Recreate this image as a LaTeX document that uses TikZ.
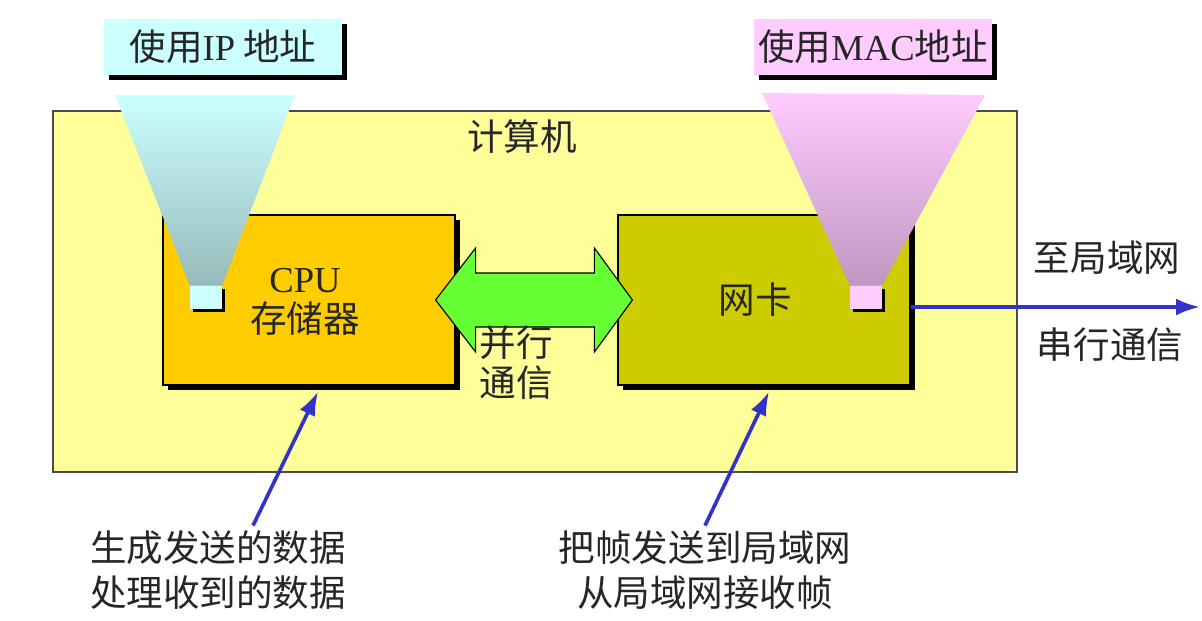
\documentclass[tikz,border=0pt]{standalone}
\usepackage{fontspec}
\setmainfont{Liberation Serif}
\newfontfamily\cjk{Noto Sans CJK SC}
\usetikzlibrary{calc,shadows,arrows.meta}

\definecolor{pcyellow}{HTML}{FFFF99}
\definecolor{cpuorange}{HTML}{FFCC00}
\definecolor{nicolive}{HTML}{CCCC00}
\definecolor{busgreen}{HTML}{66FF33}
\definecolor{wireblue}{HTML}{3333CC}
\definecolor{ipcyan}{HTML}{CCFFFF}
\definecolor{ipcyandark}{HTML}{96BABA}
\definecolor{macpink}{HTML}{FFCCFF}
\definecolor{macpinkdark}{HTML}{C096C0}

\tikzset{
  txt/.style={font=\fontsize{26}{29}\selectfont\cjk, align=center, text=black!85},
  blackshadow/.style={drop shadow={shadow xshift=0.12cm, shadow yshift=-0.12cm, fill=black, opacity=1}},
  unit/.style={draw=black, line width=0.8pt, inner sep=0pt, minimum width=7.3cm, minimum height=4.25cm, blackshadow},
  tag/.style={txt, inner sep=0pt, minimum width=5.95cm, minimum height=1.4cm, blackshadow},
  port/.style={inner sep=0pt, minimum width=0.8cm, minimum height=0.575cm, drop shadow={shadow xshift=0.08cm, shadow yshift=-0.08cm, fill=black, opacity=1}},
  wire/.style={draw=wireblue, line width=2.6pt, -{Latex[length=17pt,width=12pt]}}
}

\begin{document}
\begin{tikzpicture}[x=0.025cm, y=-0.025cm]
\useasboundingbox (0,0) rectangle (1202,620);

% Computer
\node[draw=black!70, line width=1pt, fill=pcyellow, minimum width=24.1cm, minimum height=9.025cm, inner sep=0pt] (pc) at (535,291.5) {};
\node[txt] (pcname) at (522,137) {计算机};

% CPU and network card
\node[unit, fill=cpuorange] (cpu) at (309,300) {};
\node[unit, fill=nicolive] (nic) at (764,300) {};
\node[txt, font=\fontsize{26}{28}\selectfont\cjk] (cpuname) at (305,302) {{\rmfamily CPU}\\存储器};
\node[txt] (nicname) at (755,300) {网卡};

% Ports
\node[port, fill=ipcyan] (ipport) at (206,297) {};
\node[port, fill=macpink] (macport) at (866,297) {};

% Cones
\shade[top color=ipcyan, bottom color=ipcyandark] (115,95) -- (295,95) -- (ipport.north east) -- (ipport.north west) -- cycle;
\shade[top color=macpink, bottom color=macpinkdark] (762,93) -- (985,95) -- (macport.north east) -- (macport.north west) -- cycle;

% Address tags
\node[tag, fill=ipcyan] (iptag) at (223,47) {使用{\rmfamily IP} 地址};
\node[tag, fill=macpink] (mactag) at (873,47) {使用{\rmfamily MAC}地址};

% Parallel bus
\coordinate (busL) at ($(cpu.east)+(-20,0)$);
\coordinate (busR) at ($(nic.west)+(15,0)$);
\draw[fill=busgreen, line width=0.8pt] (busL) -- ++(40,-52) -- ++(0,25) -- ($(busR)+(-38,-27)$) -- ++(0,-25) -- (busR)
  -- ++(-38,52) -- ++(0,-25) -- ($(busL)+(40,27)$) -- ++(0,25) -- cycle;
\node[txt, font=\fontsize{26}{28.5}\selectfont\cjk] (busname) at (516,363) {并行\\通信};

% Serial link
\coordinate (lan) at (1200,307);
\draw[wire] ($(nic.east)+(0,7)$) -- (lan);
\node[txt] (lanto) at (1107,258) {至局域网};
\node[txt] (serial) at (1110,345) {串行通信};

% Notes
\node[txt, font=\fontsize{26}{32}\selectfont\cjk] (cpunote) at (218,570) {生成发送的数据\\处理收到的数据};
\node[txt, font=\fontsize{26}{32}\selectfont\cjk] (nicnote) at (705,570) {把帧发送到局域网\\从局域网接收帧};
\draw[wire] ($(cpunote.north)+(35,0)$) -- ($(cpu.south)+(9,6)$);
\draw[wire] (nicnote.north) -- ($(nic.south)+(5,6)$);
\end{tikzpicture}
\end{document}
